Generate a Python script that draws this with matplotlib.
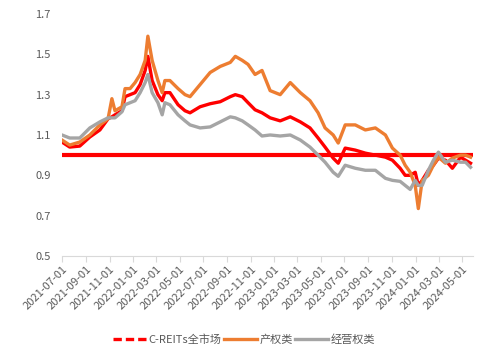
import matplotlib
matplotlib.use("Agg")
import matplotlib.pyplot as plt
import matplotlib.dates as mdates
from matplotlib.lines import Line2D
import pandas as pd

plt.rcParams["font.family"] = ["Noto Sans CJK SC", "DejaVu Sans"]

dates = [
    "2021-07-01", "2021-07-21", "2021-08-16", "2021-09-11", "2021-10-07", "2021-10-28",
    "2021-11-07", "2021-11-15", "2021-12-03", "2021-12-11", "2021-12-24", "2022-01-06",
    "2022-01-19", "2022-02-01", "2022-02-08", "2022-02-19", "2022-03-06", "2022-03-17",
    "2022-03-24", "2022-04-06", "2022-04-27", "2022-05-15", "2022-05-28", "2022-06-23",
    "2022-07-19", "2022-08-14", "2022-09-09", "2022-09-22", "2022-10-10", "2022-10-25",
    "2022-11-12", "2022-11-30", "2022-12-21", "2023-01-16", "2023-02-11", "2023-03-09",
    "2023-04-03", "2023-04-24", "2023-05-12", "2023-06-02", "2023-06-15", "2023-07-03",
    "2023-07-29", "2023-08-24", "2023-09-19", "2023-10-15", "2023-11-02", "2023-11-22",
    "2023-12-05", "2023-12-18", "2023-12-31", "2024-01-08", "2024-01-18", "2024-02-03",
    "2024-02-16", "2024-02-29", "2024-03-18", "2024-04-05", "2024-04-26", "2024-05-09",
    "2024-05-22",
]

creits_all = [
    1.065, 1.04, 1.045, 1.09, 1.125, 1.18,
    1.19, 1.20, 1.22, 1.29, 1.30, 1.31,
    1.35, 1.42, 1.49, 1.37, 1.30, 1.27,
    1.31, 1.31, 1.25, 1.22, 1.21, 1.24,
    1.255, 1.265, 1.29, 1.30, 1.29, 1.26,
    1.225, 1.21, 1.185, 1.17, 1.19, 1.165,
    1.135, 1.085, 1.04, 0.985, 0.96, 1.035,
    1.025, 1.01, 1.00, 0.99, 0.975, 0.935,
    0.90, 0.90, 0.915, 0.85, 0.875, 0.925,
    0.95, 0.985, 0.975, 0.935, 0.99, 0.975,
    0.96,
]

property_rights = [
    1.075, 1.05, 1.065, 1.10, 1.15, 1.18,
    1.28, 1.22, 1.24, 1.33, 1.33, 1.36,
    1.40, 1.47, 1.59, 1.47, 1.37, 1.31,
    1.37, 1.37, 1.33, 1.30, 1.29, 1.35,
    1.41, 1.44, 1.46, 1.49, 1.47, 1.45,
    1.40, 1.42, 1.32, 1.30, 1.36, 1.31,
    1.27, 1.21, 1.135, 1.10, 1.06, 1.15,
    1.15, 1.125, 1.135, 1.10, 1.035, 1.00,
    0.95, 0.915, 0.85, 0.735, 0.875, 0.90,
    0.95, 0.99, 0.96, 0.985, 1.00, 1.00,
    0.99,
]

operating_rights = [
    1.10, 1.085, 1.085, 1.135, 1.165, 1.185,
    1.185, 1.185, 1.215, 1.25, 1.26, 1.27,
    1.31, 1.36, 1.40, 1.31, 1.26, 1.20,
    1.26, 1.25, 1.20, 1.17, 1.15, 1.135,
    1.14, 1.165, 1.19, 1.185, 1.17, 1.15,
    1.125, 1.095, 1.10, 1.095, 1.10, 1.075,
    1.04, 1.00, 0.965, 0.915, 0.895, 0.95,
    0.935, 0.925, 0.925, 0.885, 0.875, 0.87,
    0.85, 0.83, 0.875, 0.85, 0.85, 0.925,
    0.975, 1.015, 0.965, 0.975, 0.965, 0.965,
    0.94,
]

baseline = 1.0
tick_dates = pd.date_range("2021-07-01", "2024-05-01", freq="2MS")

RED = "#FF0000"
ORANGE = "#ED7D31"
GRAY = "#A5A5A5"
TEXT = "#595959"

x = pd.to_datetime(dates)

fig = plt.figure(figsize=(4.88, 3.59), dpi=100)
ax = fig.add_axes([0.127, 0.287, 0.842, 0.674])

ax.axhline(baseline, color=RED, lw=3.0, zorder=1)
ax.plot(x, creits_all, color=RED, lw=2.4, zorder=2)
ax.plot(x, property_rights, color=ORANGE, lw=2.4, zorder=3)
ax.plot(x, operating_rights, color=GRAY, lw=2.4, zorder=4)

ax.set_xlim(pd.Timestamp("2021-07-01"), pd.Timestamp("2024-05-28"))
ax.set_ylim(0.5, 1.7)
ax.set_yticks([0.5, 0.7, 0.9, 1.1, 1.3, 1.5, 1.7])
ax.set_yticklabels([f"{v:.1f}" for v in [0.5, 0.7, 0.9, 1.1, 1.3, 1.5, 1.7]])
ax.set_xticks(tick_dates)
ax.set_xticklabels([d.strftime("%Y-%m-%d") for d in tick_dates],
                   rotation=45, ha="right", rotation_mode="anchor")

for s in ["top", "right", "left"]:
    ax.spines[s].set_visible(False)
ax.spines["bottom"].set_color("#D9D9D9")
ax.tick_params(axis="y", length=0, labelsize=8, colors=TEXT, pad=8)
ax.tick_params(axis="x", length=4, color="#D9D9D9", labelsize=8,
               labelcolor=TEXT, pad=2)

handles = [
    Line2D([], [], color=RED, lw=2.4, linestyle=(0, (2.5, 1.2))),
    Line2D([], [], color=ORANGE, lw=2.4),
    Line2D([], [], color=GRAY, lw=2.4),
]
fig.legend(handles, ["C-REITs全市场", "产权类", "经营权类"],
           loc="center", bbox_to_anchor=(0.5, 0.055), ncol=3, frameon=False,
           fontsize=8, handlelength=3.0, handletextpad=0.2, columnspacing=0.2,
           labelcolor=TEXT)

fig.savefig("out.png", dpi=100, facecolor="white")
